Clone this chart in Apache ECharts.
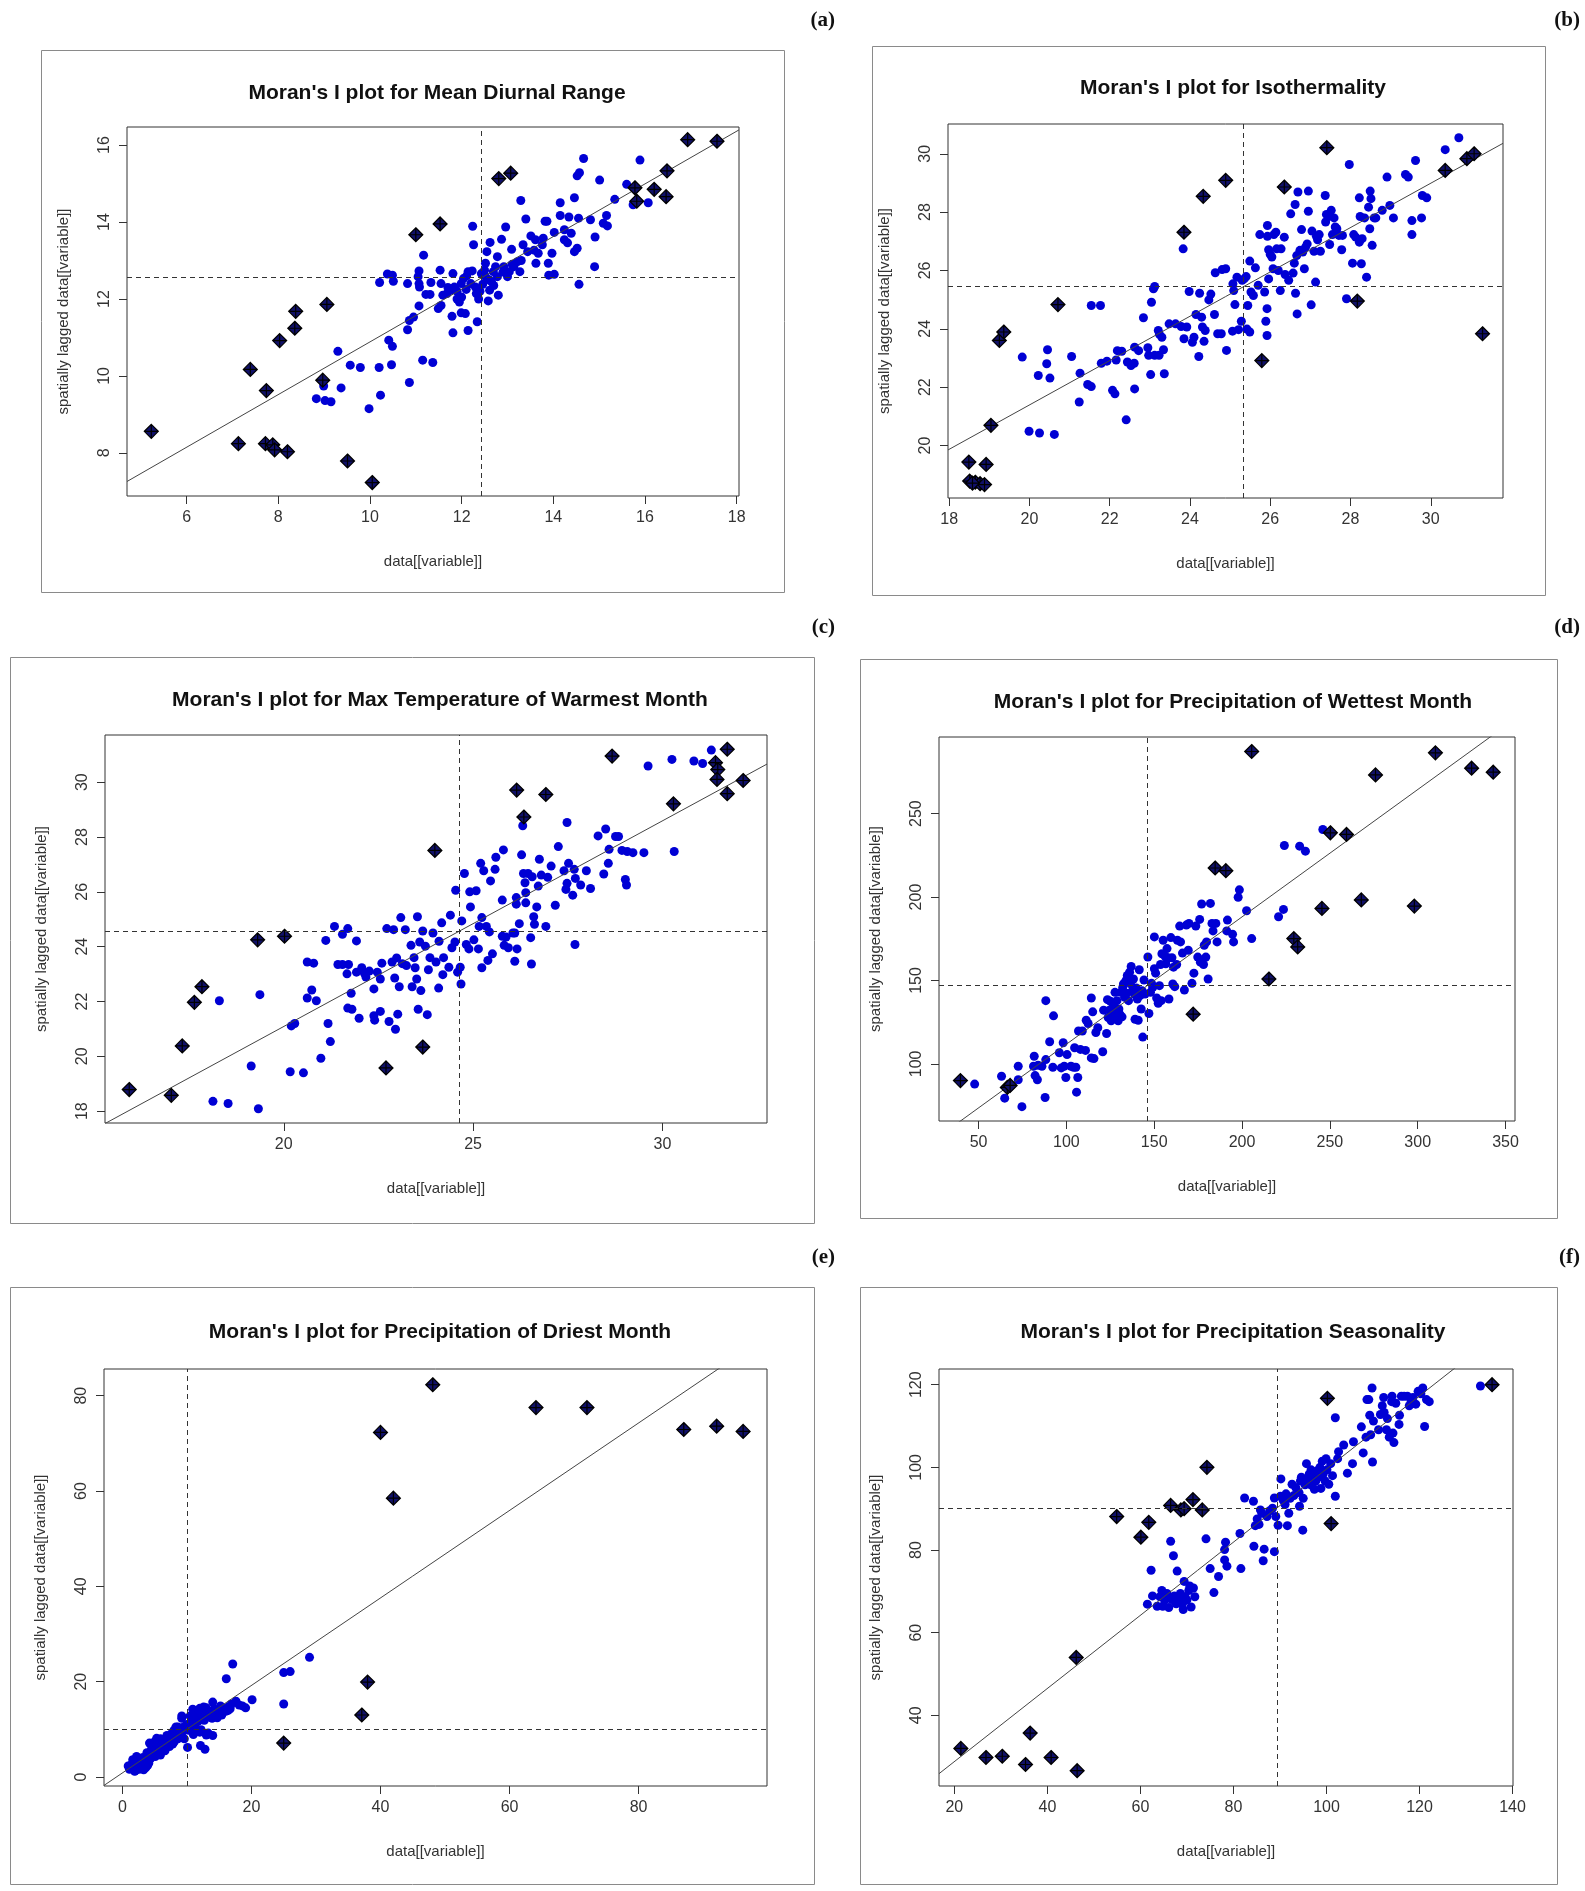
<!DOCTYPE html>
<html lang="en">
<head>
<meta charset="UTF-8">
<title>Moran's I plots</title>
<script src="https://cdn.jsdelivr.net/npm/echarts@6/dist/echarts.min.js"></script>
<style>
  body { margin: 0; padding: 0; background: #fff; }
  #chart { width: 1585px; height: 1891px; }
</style>
</head>
<body>
<div id="chart"></div>
<script>
// ---------- data ----------
// (a) Mean Diurnal Range
var aPts = [[9.30,10.64],[9.57,10.28],[9.79,10.22],[10.2,10.22],[10.47,10.29],[10.41,10.93],[10.49,10.77],[11.15,10.41],[11.37,10.35],[10.86,9.83],[8.99,9.74],[9.37,9.69],[8.83,9.41],[9.02,9.36],[9.15,9.33],[10.23,9.5],[9.98,9.15],[10.82,11.2],[10.86,11.44],[10.95,11.53],[11.07,11.82],[11.17,13.14],[11.49,11.75],[11.55,11.83],[11.81,11.12],[12.14,11.18],[12.34,11.41],[11.99,11.64],[11.79,11.55],[12.08,11.62],
  [10.21,12.43],[10.38,12.65],[10.49,12.62],[10.51,12.46],[10.82,12.4],[11.07,12.73],[11.05,12.58],[11.07,12.4],[11.08,12.31],[11.33,12.43],[11.53,12.75],[11.55,12.4],[11.22,12.12],[11.31,12.12],[11.59,12.1],[11.68,12.14],[11.77,12.23],[11.81,12.66],[11.84,12.31],[11.9,12.0],[11.95,11.92],[11.99,12.4],[12.04,12.53],[12.11,12.6],[12.14,12.71],[12.23,12.73],[12.26,13.41],[12.24,13.89],[12.3,12.31],[12.32,12.14],[12.37,12.0],[12.43,12.66],[12.46,12.38],[12.52,12.93],[12.52,12.58],[12.55,13.23],[12.58,11.95],[12.61,12.23],[12.62,13.47],[12.65,12.45],[12.69,12.71],[12.74,12.84],[12.78,12.58],[12.8,12.1],[12.78,13.1],[12.87,13.55],[12.92,12.84],[12.96,13.87],[13.0,12.58],[13.04,12.71],[13.09,13.29],[13.14,12.84],[13.22,12.97],[13.27,12.71],[13.29,14.56],[13.34,13.41],[13.4,14.08],[13.44,13.23],[13.51,13.64],[13.58,13.27],[13.61,13.54],[13.62,12.93],[13.67,13.19],[13.76,13.41],[13.78,13.58],[13.82,14.02],[13.86,14.02],[13.89,12.93],[13.9,12.62],[13.97,13.19],[14.02,12.64],[14.02,13.73],[14.15,14.17],[14.15,14.5],[14.24,13.8],[14.24,13.54],[14.31,13.46],[14.34,14.13],[14.39,13.71],[14.46,14.63],[14.46,13.23],[14.52,13.32],[14.52,15.2],[14.57,15.28],[14.55,14.1],[14.56,12.38],[14.66,15.65],[14.81,14.06],[14.9,12.84],[14.91,13.61],[15.01,15.09],[15.09,13.97],[15.18,13.9],[15.16,14.17],[15.34,14.59],[15.6,14.98],[15.74,14.45],[15.89,15.61],[16.07,14.5],
  [11.9,12.2],[12.0,12.05],[12.1,12.25],[12.2,12.4],[12.4,12.2],[12.6,12.5],[12.7,12.35],[12.9,12.7],[13.1,12.9],[13.3,13.0],[11.7,12.3],[12.5,12.75]];
var aInf = [[5.23,8.56],[7.13,8.24],[7.39,10.17],[7.74,9.62],[7.72,8.24],[7.88,8.21],[7.92,8.08],[8.20,8.03],[8.03,10.92],[8.36,11.24],[8.38,11.68],[9.06,11.86],[8.97,9.89],[9.51,7.79],[10.05,7.23],[11.0,13.67],[11.53,13.95],[12.81,15.13],[13.07,15.27],[15.78,14.89],[15.82,14.54],[16.2,14.85],[16.46,14.66],[16.48,15.33],[16.93,16.14],[17.57,16.1]];

// (b) Isothermality
var bPts = [[19.82,23.03],[19.99,20.49],[20.25,20.43],[20.62,20.38],[20.22,22.4],[20.51,22.31],[20.45,23.28],[20.43,22.8],[21.05,23.05],[21.26,22.48],[21.24,21.49],[21.45,22.09],[21.54,22.02],[21.54,24.8],[21.77,24.8],[21.79,22.82],[21.93,22.89],[22.07,21.89],[22.13,21.77],[22.16,22.93],[22.19,23.25],[22.3,23.23],[22.41,20.88],[22.44,22.86],[22.53,22.74],[22.61,22.82],[22.62,21.94],[22.62,23.37],[22.72,23.25],[22.84,24.38],[22.95,23.35],[22.97,23.09],[23.02,22.43],[23.04,24.91],[23.09,25.37],[23.12,25.45],[23.12,23.09],[23.23,23.09],[23.21,23.94],[23.24,23.81],[23.3,23.71],[23.34,23.28],[23.36,22.46],[23.48,24.17],[23.64,24.17],[23.78,24.08],[23.83,26.74],[23.85,23.66],[23.92,24.06],[23.98,25.28],[24.06,23.54],[24.1,23.71],[24.15,24.49],[24.22,23.05],[24.24,25.22],[24.29,24.4],[24.31,24.06],[24.35,23.57],[24.38,23.94],[24.47,24.99],[24.52,25.19],[24.61,24.49],[24.63,25.92],[24.69,23.83],[24.78,23.83],[24.8,26.03],[24.89,26.06],[24.91,23.26],[25.06,23.92],[25.07,25.54],[25.09,25.31],[25.12,24.83],[25.17,25.77],[25.21,23.97],[25.28,24.26],[25.3,25.66],[25.35,25.71],[25.4,25.79],[25.42,23.99],[25.44,24.8],[25.49,26.32],[25.49,23.89],[25.52,25.26],[25.58,25.14],[25.63,26.09],[25.7,25.49],[25.74,27.23],[25.86,25.26],[25.89,24.26],[25.92,24.69],[25.92,23.77],[25.93,27.54],[25.93,27.17],[25.96,25.71],[25.96,26.71],[26.0,26.55],[26.04,26.46],[26.07,26.06],[26.09,27.23],[26.14,27.31],[26.16,26.74],[26.2,26.0],[26.25,25.31],[26.27,26.74],[26.35,27.14],[26.37,25.86],[26.46,25.66],[26.51,27.94],[26.57,25.91],[26.6,26.25],[26.62,28.26],[26.63,25.22],[26.66,26.51],[26.67,24.51],[26.69,28.69],[26.74,26.69],[26.78,27.4],[26.81,26.63],[26.85,26.06],[26.88,26.8],[26.92,26.91],[26.95,28.72],[26.95,28.03],[27.02,24.82],[27.04,27.35],[27.09,26.66],[27.13,25.6],[27.15,27.17],[27.18,27.05],[27.22,27.23],[27.25,26.66],[27.37,28.57],[27.38,27.66],[27.4,27.92],[27.45,27.85],[27.48,26.89],[27.52,28.06],[27.55,27.23],[27.59,27.8],[27.62,27.49],[27.66,27.43],[27.71,27.2],[27.78,26.71],[27.8,27.2],[27.9,25.03],[27.97,29.63],[28.05,26.25],[28.08,27.23],[28.13,27.14],[28.22,28.49],[28.22,26.97],[28.24,27.85],[28.27,26.23],[28.29,27.09],[28.35,27.8],[28.4,25.77],[28.45,28.17],[28.48,27.43],[28.49,28.72],[28.51,28.46],[28.54,26.86],[28.59,27.8],[28.63,27.8],[28.79,28.06],[28.91,29.2],[28.98,28.23],[29.07,27.8],[29.37,29.29],[29.44,29.2],[29.53,27.23],[29.53,27.71],[29.62,29.77],[29.77,27.8],[29.79,28.57],[29.9,28.49],[30.36,30.14],[30.7,30.55]];
var bInf = [[18.49,19.43],[18.92,19.35],[18.51,18.78],[18.65,18.74],[18.77,18.69],[18.88,18.66],[18.58,18.71],[19.04,20.69],[19.25,23.6],[19.36,23.89],[20.71,24.83],[23.85,27.31],[24.33,28.54],[24.89,29.09],[25.79,22.91],[26.35,28.86],[27.41,30.21],[28.17,24.95],[30.36,29.43],[30.9,29.83],[31.08,30.0],[31.29,23.83]];

// (c) Max Temperature of Warmest Month
var cPts = [[18.13,18.36],[18.53,18.28],[19.33,18.09],[18.3,22.03],[19.37,22.25],[19.14,19.65],[20.17,19.44],[20.52,19.4],[20.2,21.11],[20.29,21.2],[20.62,22.13],[20.74,22.42],[20.86,22.03],[20.62,23.44],[20.79,23.4],[20.98,19.93],[21.17,21.2],[21.23,20.54],[21.11,24.23],[21.34,24.74],[21.43,23.35],[21.55,24.45],[21.55,23.35],[21.69,24.66],[21.71,23.35],[21.67,23.01],[21.78,22.3],[21.69,21.76],[21.8,21.72],[21.92,24.21],[21.92,23.07],[21.99,21.39],[22.06,23.23],[22.13,23.03],[22.17,22.89],[22.26,23.11],[22.38,22.46],[22.38,21.48],[22.4,21.32],[22.47,23.07],[22.55,21.64],[22.55,22.82],[22.59,23.4],[22.72,24.66],[22.78,21.27],[22.86,23.44],[22.9,24.62],[22.93,22.86],[22.95,20.99],[22.98,23.59],[23.01,21.54],[23.05,22.54],[23.09,25.06],[23.13,23.38],[23.21,24.62],[23.24,23.31],[23.36,24.05],[23.39,22.54],[23.44,23.6],[23.47,23.23],[23.51,22.82],[23.53,25.09],[23.55,21.72],[23.59,24.17],[23.62,22.4],[23.67,24.57],[23.74,24.02],[23.79,21.52],[23.82,23.16],[23.86,23.6],[23.94,24.5],[24.02,23.44],[24.09,22.49],[24.1,24.2],[24.17,24.87],[24.2,22.98],[24.22,23.6],[24.36,23.25],[24.4,25.15],[24.44,23.96],[24.52,24.17],[24.54,26.06],[24.59,23.07],[24.66,23.25],[24.68,22.64],[24.7,24.94],[24.77,26.67],[24.82,24.08],[24.89,23.92],[24.91,26.0],[24.93,25.45],[25.02,24.25],[25.08,26.04],[25.14,23.92],[25.16,24.74],[25.2,27.04],[25.23,25.06],[25.23,23.23],[25.28,26.77],[25.35,24.74],[25.39,23.5],[25.43,24.54],[25.46,26.4],[25.51,23.74],[25.58,26.82],[25.6,27.26],[25.77,25.7],[25.77,24.38],[25.8,27.53],[25.82,24.05],[25.87,24.35],[25.93,23.96],[26.05,24.5],[26.1,23.47],[26.1,24.5],[26.14,25.79],[26.14,25.55],[26.16,23.92],[26.22,24.84],[26.28,27.35],[26.31,28.41],[26.33,26.67],[26.37,26.33],[26.39,25.6],[26.39,25.97],[26.45,26.67],[26.52,24.33],[26.54,23.37],[26.56,26.55],[26.6,25.09],[26.62,24.82],[26.68,25.45],[26.72,26.21],[26.75,27.19],[26.8,26.61],[26.92,24.74],[26.97,26.53],[27.06,26.94],[27.17,25.51],[27.25,27.65],[27.4,26.77],[27.45,26.09],[27.48,26.31],[27.52,27.04],[27.48,28.53],[27.63,25.88],[27.67,26.82],[27.69,24.08],[27.7,26.49],[27.84,26.25],[27.99,26.77],[28.1,26.12],[28.3,28.04],[28.45,26.65],[28.5,28.29],[28.57,27.04],[28.59,27.55],[28.76,28.02],[28.84,28.02],[28.93,27.51],[29.02,26.45],[29.05,26.25],[29.07,27.47],[29.22,27.43],[29.51,27.43],[29.62,30.59],[30.25,30.83],[30.31,27.47],[30.83,30.77],[31.06,30.68],[31.29,31.17]];
var cInf = [[15.92,18.79],[17.03,18.58],[17.32,20.38],[17.64,21.97],[17.84,22.54],[19.31,24.25],[20.02,24.38],[22.7,19.58],[23.67,20.34],[23.99,27.51],[26.15,29.71],[26.34,28.73],[26.92,29.55],[28.67,30.95],[30.29,29.21],[31.4,30.71],[31.46,30.46],[31.44,30.1],[31.71,31.2],[31.71,29.58],[32.13,30.06]];

// (d) Precipitation of Wettest Month
var dPts = [[47.8,87.9],[63.1,92.6],[64.9,79.5],[72.6,98.6],[72.6,90.5],[74.7,74.4],[81.7,104.6],[82.2,93.0],[83.5,90.5],[81.3,98.6],[83.9,99.2],[86.1,98.6],[87.9,79.9],[88.3,137.9],[88.3,102.6],[90.5,113.3],[92.3,98.0],[92.7,128.8],[96.0,106.7],[97.1,97.6],[98.2,112.7],[98.8,98.6],[99.7,91.9],[100.4,105.6],[102.6,98.6],[104.1,98.0],[104.7,109.7],[105.4,98.0],[105.8,83.1],[106.5,91.9],[108,108.7],[106.9,119.7],[109.1,119.7],[110.9,108.1],[111.3,126.2],[112.4,124.2],[114.2,139.5],[114.2,103.6],[115.7,103.2],[115,131.2],[116.8,118.8],[117.9,121.7],[120.7,107.3],[121.2,132.2],[122.9,118.2],[123.4,138.5],[123.8,127.8],[124.5,132.2],[125.1,137.5],[125.5,125.8],[126,130.8],[126.6,134.2],[127.3,128.8],[127.7,142.9],[128.2,129.8],[128.8,137.9],[129.5,125.8],[129.9,132.9],[130.4,129.8],[131,142.9],[131.7,128.2],[132.1,145.9],[132.5,148],[133.2,139.9],[133.9,149.9],[134.3,142.3],[134.7,153],[135.4,137.9],[136,155],[136.5,148],[136.9,158.4],[137.6,143.9],[138.2,150.9],[138.7,141.9],[139.1,126.8],[139.8,145.5],[140.4,138.9],[140.9,126.2],[141.5,156.4],[142,140.9],[142.6,132.9],[143.1,143.9],[143.5,116.1],[144.2,150.3],[144.8,141.9],[146.4,164.1],[147,130.2],[147.9,142.9],[148.5,148.3],[149.2,145.9],[150.1,176.1],[150.1,157],[150.8,154.4],[151.4,139.5],[152.3,136.3],[153,146.9],[153.6,159.6],[154,137.9],[154.4,166],[155.1,174.1],[156.2,164.5],[156.6,160],[157.3,169.1],[157.9,163.6],[158.4,138.9],[159.5,175.7],[160.1,163.6],[160.6,147.9],[161,158],[161.7,146.3],[162.8,159.6],[163.2,174.1],[164.5,182.6],[165,173.1],[166.1,166.4],[167.2,144.3],[168.3,183.2],[169.4,168.1],[169.8,184.2],[171.5,148.3],[172.6,154.4],[173.7,182.6],[174.8,164],[175.9,186.6],[176.3,161],[177,195.8],[178.1,159.6],[178.5,171.1],[179.4,164],[179.8,173.1],[180.7,150.9],[182,196.2],[182.9,184.2],[183.5,179.7],[185.1,184.2],[185.8,173.1],[191.3,179.7],[191.7,186.2],[194.6,177.7],[195.2,173.1],[197.8,199.9],[198.5,204.3],[202.6,191.8],[205.5,175.1],[220.8,188.2],[223.6,192.6],[224.1,230.9],[232.8,230.5],[236.1,227.5],[246,240.5]];
var dInf = [[39.7,90.0],[66.4,85.9],[68,87.1],[172.2,129.8],[184.7,217.4],[190.8,215.8],[205.5,287.2],[215.3,150.9],[229.5,175.1],[231.7,170.1],[245.5,193.2],[250.3,238.5],[259.5,237.5],[267.9,198.3],[276,273.2],[298.1,194.6],[310.1,286.4],[330.7,277.2],[343,274.8]];

// (e) Precipitation of Driest Month
var ePts = [[29.0,25.1],[25.0,21.9],[26.0,22.1],[25.0,15.3],[17.1,23.7],[16.1,20.6],[20.1,16.2],[19.1,14.5],[18.1,15.1],[16.9,15.3],[16.7,14.3],[16.1,13.8],[15.4,13.0],[14.0,15.7],[13.9,12.3],[13.0,14.5],[12.3,13.0],[12.0,14.4],[11.5,13.7],[11.2,12.3],[11.0,13.1],[11.7,11.6],[12.7,11.9],[13.4,12.6],[14.7,12.4],[15.7,14.4],[9.2,12.8],[9.2,12.3],[14.0,8.7],[13.0,8.8],[12.0,9.4],[12.1,6.6],[12.8,5.8],[10.3,9.8],[10.1,6.2],[9.6,8.0],[8.8,9.1],[8.3,10.5],[8.1,8.3],[7.6,9.1],[7.3,7.6],[6.9,8.7],[6.3,6.9],[5.9,8.0],[5.3,8.1],[4.9,7.3],[4.2,7.1],[5.6,5.8],[5.9,4.6],[5.3,5.1],[4.6,4.4],[3.9,3.7],[3.6,3.0],[3.2,4.1],[2.6,3.1],[2.2,4.3],[1.9,2.6],[1.6,1.9],[1.1,1.6],[1.2,2.4],[0.9,2.3],[2.9,1.9],[3.6,1.9],[3.9,2.4],[2.6,1.6],[1.9,1.2],[1.6,3.6],[2.2,2.3],[3.1,2.6],[6.6,5.5],[7.3,6.4],[8.0,7.3],[8.6,8.0],[9.3,9.4],[9.98,11.0],[10.7,11.6],[11.3,10.1],[11.7,14.0],[13.7,13.7],[15.0,13.8],[14.4,13.0],[8.0,9.8],[8.6,10.5],[4.5,5.8],[3.8,5.1],[5.3,6.7],
  [2.0,1.3],[2.4,2.0],[2.8,2.7],[3.3,1.5],[3.5,3.5],[4.1,2.9],[4.4,3.9],[4.8,5.3],[5.1,4.3],[5.7,6.2],[6.1,5.6],[6.5,7.3],[6.8,6.1],[7.5,8.0],[7.8,6.9],[8.4,8.8],[9.0,9.9],[9.5,10.5],[10.5,12.8],[10.9,14.2],[11.3,12.9],[11.9,13.4],[12.4,12.0],[12.6,14.7],[13.2,13.4],[13.8,12.9],[14.2,14.2],[15.2,14.9],[16.4,14.7],[17.6,15.9],[18.6,14.9],[16.4,14.0],[12.2,9.9],[13.3,9.2],[11.0,8.9],[10.6,10.7]];
var eInf = [[48.1,82.3],[40.0,72.3],[42.0,58.5],[64.1,77.5],[72.0,77.5],[87.0,72.9],[92.1,73.6],[96.2,72.5],[38.0,19.9],[37.1,13.0],[25.0,7.1]];

// (f) Precipitation Seasonality
var fPts = [[61.5,66.9],[62.3,75.1],[62.6,68.9],[63.6,66.4],[64.2,68.7],[64.6,70.2],[64.8,66.4],[65.2,67.9],[65.7,69.5],[66.1,66.1],[66.5,82.1],[66.7,68.0],[67.1,78.6],[67.3,68.9],[67.7,67.0],[67.9,74.9],[68.1,68.7],[68.4,67.9],[68.6,69.5],[69.0,66.9],[69.2,65.6],[69.4,72.4],[69.6,68.7],[70.0,67.9],[70.4,70.2],[70.6,71.3],[70.9,66.2],[71.4,70.8],[71.7,68.7],[74.1,82.7],[75.0,75.5],[75.8,69.7],[76.8,73.6],[78.1,77.6],[78.1,80.1],[78.3,81.9],[78.6,76.1],[81.6,75.5],[81.4,84.0],[82.4,92.6],[84.3,91.8],[84.4,80.9],[84.7,85.9],[85.1,87.5],[85.5,86.2],[85.8,89.7],[86.1,88.9],[86.4,77.4],[86.6,80.2],[87.2,88.1],[87.8,89.5],[88.4,90.1],[88.8,79.6],[88.8,92.6],[89.1,88.1],[89.6,86.0],[90.1,93.0],[90.2,97.2],[90.7,92.0],[91.1,91.0],[91.3,93.6],[91.6,85.9],[91.9,88.9],[92.2,92.5],[92.6,95.9],[93.0,93.2],[93.4,95.1],[94.1,93.9],[94.2,90.6],[94.4,96.7],[94.6,97.6],[94.9,84.8],[95.0,92.5],[95.4,95.8],[95.7,100.9],[95.9,97.2],[96.3,98.4],[96.6,95.8],[96.7,99.4],[97.1,97.7],[97.4,94.7],[97.7,96.7],[98.0,99.2],[98.2,97.6],[98.6,100.0],[98.8,94.9],[99.1,101.5],[99.3,98.4],[99.7,96.7],[99.9,102.1],[100.1,99.4],[100.5,95.9],[100.9,100.9],[101.3,98.0],[101.9,93.0],[101.9,112.0],[102.4,102.1],[102.6,103.8],[103.7,105.4],[104.5,98.6],[105.6,100.9],[105.8,106.2],[107.5,109.8],[107.9,103.5],[108.5,107.3],[108.7,116.4],[109.1,116.4],[109.3,112.6],[109.5,107.9],[109.8,119.2],[109.9,101.3],[110.1,111.2],[111.2,109.1],[111.6,112.8],[112.0,114.9],[112.3,116.9],[112.4,113.3],[112.9,109.1],[113.1,111.8],[113.5,107.3],[114.0,115.9],[114.1,117.2],[114.3,108.3],[114.5,106.0],[114.9,115.5],[115.6,110.4],[115.7,112.6],[116.1,117.2],[116.7,117.2],[117.4,117.2],[117.8,114.9],[118.2,115.9],[118.6,116.9],[119.2,115.3],[119.7,118.4],[120.3,117.8],[120.7,119.2],[121.1,109.9],[121.5,116.4],[122.1,115.9],[133.1,119.7]];
var fInf = [[21.4,32.0],[26.8,29.8],[30.3,30.1],[35.3,28.1],[36.3,35.7],[40.8,29.8],[46.4,26.6],[46.2,54.0],[54.9,88.1],[60.1,83.1],[61.8,86.7],[66.5,90.8],[68.7,89.7],[69.4,90.0],[71.3,92.2],[73.3,89.7],[74.3,100.0],[100.2,116.7],[101.0,86.4],[135.6,120.0]];

var titles = [
  "Moran's I plot for Mean Diurnal Range",
  "Moran's I plot for Isothermality",
  "Moran's I plot for Max Temperature of Warmest Month",
  "Moran's I plot for Precipitation of Wettest Month",
  "Moran's I plot for Precipitation of Driest Month",
  "Moran's I plot for Precipitation Seasonality"
];
var tags = ['(a)', '(b)', '(c)', '(d)', '(e)', '(f)'];

// axis ranges [min, max]
var xRanges = [[4.7, 18.05], [17.97, 31.8], [15.28, 32.76], [27.5, 355.4], [-2.85, 99.9], [16.7, 140.1]];
var yRanges = [[6.88, 16.47], [18.2, 31.02], [17.57, 31.72], [65.8, 295.9], [-1.9, 85.6], [22.9, 123.8]];

// tick labels
var xTicks = [[6, 8, 10, 12, 14, 16, 18], [18, 20, 22, 24, 26, 28, 30], [20, 25, 30],
  [50, 100, 150, 200, 250, 300, 350], [0, 20, 40, 60, 80], [20, 40, 60, 80, 100, 120, 140]];
var yTicks = [[8, 10, 12, 14, 16], [20, 22, 24, 26, 28, 30], [18, 20, 22, 24, 26, 28, 30],
  [100, 150, 200, 250], [0, 20, 40, 60, 80], [40, 60, 80, 100, 120]];

// means of x and lagged x (dashed lines), fitted line [intercept, slope]
var means = [[12.43, 12.56], [25.33, 25.46], [24.63, 24.56], [145.9, 146.9], [9.98, 9.91], [89.5, 90.1]];
var fits = [[4.04, 0.6845], [6.19, 0.76], [6.09, 0.75], [35.5, 0.763], [0.84, 0.918], [11.1, 0.885]];

var points = [aPts, bPts, cPts, dPts, ePts, fPts];
var influential = [aInf, bInf, cInf, dInf, eInf, fInf];

// ---------- layout ----------
var grids = [
  { left: 127, top: 127, width: 612, height: 369 },
  { left: 948, top: 124, width: 555, height: 374 },
  { left: 105, top: 735, width: 662, height: 388 },
  { left: 939, top: 737, width: 576, height: 384 },
  { left: 104, top: 1369, width: 663, height: 417 },
  { left: 939, top: 1369, width: 574, height: 417 }
];
var frames = [
  [41, 50, 743, 542], [872, 46, 673, 549],
  [10, 657, 804, 566], [860, 659, 697, 559],
  [10, 1287, 804, 597], [860, 1287, 697, 597]
];
var titlePos = [[432, 91], [1228, 86], [435, 698], [1228, 700], [435, 1330], [1228, 1330]];
var tagPos = [[835, 21], [1580, 21], [835, 628], [1580, 628], [835, 1258], [1580, 1258]];

var FONT = "'Liberation Sans', Arial, sans-serif";
var diamondPath = 'path://M0,-10L10,0L0,10L-10,0Z M0,-10L0,10 M-10,0L10,0';

var option = {
  backgroundColor: '#fff',
  animation: false,
  title: [],
  grid: [],
  xAxis: [],
  yAxis: [],
  series: [],
  graphic: []
};

for (var i = 0; i < 6; i++) {
  var g = grids[i];
  option.grid.push({
    left: g.left, top: g.top, width: g.width, height: g.height,
    show: true, borderColor: '#333', borderWidth: 1, backgroundColor: 'transparent'
  });
  option.title.push({
    text: titles[i],
    left: titlePos[i][0], top: titlePos[i][1] - 13,
    textAlign: 'center',
    textStyle: { fontFamily: FONT, fontSize: 21, fontWeight: 'bold', color: '#111' }
  });
  option.xAxis.push({
    type: 'value', gridIndex: i,
    min: xRanges[i][0], max: xRanges[i][1],
    name: 'data[[variable]]', nameLocation: 'middle', nameGap: 58,
    nameTextStyle: { fontFamily: FONT, fontSize: 15, color: '#333' },
    axisLine: { show: false, onZero: false },
    axisTick: { show: true, length: 8, customValues: xTicks[i], lineStyle: { color: '#333' } },
    axisLabel: { customValues: xTicks[i], margin: 14, fontFamily: FONT, fontSize: 16, color: '#333' },
    splitLine: { show: false }
  });
  option.yAxis.push({
    type: 'value', gridIndex: i,
    min: yRanges[i][0], max: yRanges[i][1],
    name: 'spatially lagged data[[variable]]', nameLocation: 'middle', nameGap: 56, nameRotate: 90,
    nameTextStyle: { fontFamily: FONT, fontSize: 15, color: '#333' },
    axisLine: { show: false, onZero: false },
    axisTick: { show: true, length: 8, customValues: yTicks[i], lineStyle: { color: '#333' } },
    axisLabel: { customValues: yTicks[i], rotate: 90, margin: 14, fontFamily: FONT, fontSize: 16, color: '#333' },
    splitLine: { show: false }
  });

  option.series.push({
    type: 'scatter', xAxisIndex: i, yAxisIndex: i,
    data: points[i], symbol: 'circle', symbolSize: 9,
    itemStyle: { color: '#0000d4', opacity: 1 },
    markLine: {
      silent: true, symbol: ['none', 'none'], animation: false,
      label: { show: false },
      lineStyle: { type: [5, 4], color: '#333', width: 1 },
      data: [{ xAxis: means[i][0] }, { yAxis: means[i][1] }]
    },
    z: 2
  });

  var x0 = xRanges[i][0], x1 = xRanges[i][1];
  var a = fits[i][0], b = fits[i][1];
  option.series.push({
    type: 'line', xAxisIndex: i, yAxisIndex: i,
    data: [[x0, a + b * x0], [x1, a + b * x1]],
    showSymbol: false, clip: true, silent: true,
    lineStyle: { color: '#444', width: 1 },
    z: 3
  });

  option.series.push({
    type: 'scatter', xAxisIndex: i, yAxisIndex: i,
    data: influential[i], symbol: diamondPath, symbolSize: 14,
    itemStyle: { color: '#10106a', borderColor: '#000', borderWidth: 1.2, opacity: 1 },
    z: 4
  });

  var f = frames[i];
  option.graphic.push({
    type: 'rect', silent: true,
    shape: { x: f[0] + 0.5, y: f[1] + 0.5, width: f[2], height: f[3] },
    style: { fill: 'none', stroke: '#8a8a8a', lineWidth: 1 }
  });
  option.graphic.push({
    type: 'text', silent: true,
    x: tagPos[i][0], y: tagPos[i][1],
    style: {
      text: tags[i], align: 'right', verticalAlign: 'middle',
      font: 'bold 21px "Liberation Serif", "DejaVu Serif", serif', fill: '#111'
    }
  });
}

var chart = echarts.init(document.getElementById('chart'), null, { renderer: 'canvas' });
chart.setOption(option);
</script>
</body>
</html>
